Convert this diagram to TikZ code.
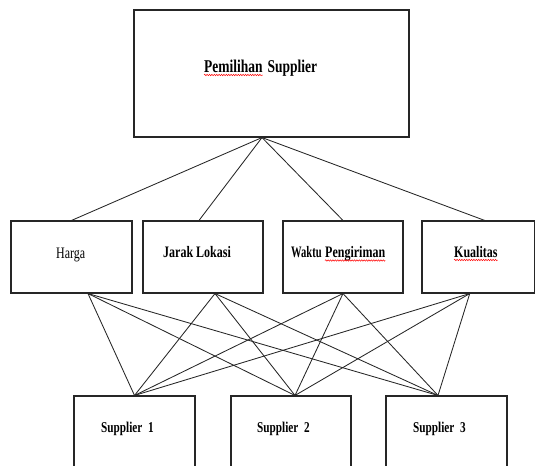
\documentclass[tikz,border=0pt]{standalone}
\usepackage{fontspec}
\setmainfont{Liberation Serif}
\newfontfamily\cf[FakeStretch=0.75]{Liberation Serif}
\newfontfamily\cfn[FakeStretch=0.66]{Liberation Serif}
\usetikzlibrary{calc,decorations.pathmorphing}
\begin{document}
\begin{tikzpicture}[x=1pt,y=-1pt,
  box/.style={draw=black!85,line width=1.1pt,rectangle,inner sep=0pt},
  lbl/.style={inner sep=0pt,anchor=base west,font=\cf\fontsize{16}{18}\selectfont},
  conn/.style={draw=black!85,line width=0.85pt},
  wavy/.style={draw=red,line width=0.5pt,decorate,decoration={snake,amplitude=0.7pt,segment length=2.4pt}}]
\useasboundingbox (0,0) rectangle (536,466);
\clip (0,0) rectangle (536,466);
% boxes
\node[box,minimum width=275pt,minimum height=127pt] (top) at (271.5,73.5) {};
\node[box,minimum width=121pt,minimum height=72pt] (harga) at (71.5,257) {};
\node[box,minimum width=120pt,minimum height=72pt] (jarak) at (203,257) {};
\node[box,minimum width=120pt,minimum height=72pt] (waktu) at (343,257) {};
\node[box,minimum width=112.5pt,minimum height=72pt] (kual) at (478.25,257) {};
\node[box,minimum width=121pt,minimum height=84pt] (s1) at (134.5,438) {};
\node[box,minimum width=120pt,minimum height=84pt] (s2) at (291,438) {};
\node[box,minimum width=121pt,minimum height=84pt] (s3) at (446.5,438) {};
% labels
\node[lbl,font=\cf\bfseries\fontsize{18}{20}\selectfont] (pem) at (204,72) {Pemilihan};
\node[lbl,font=\cf\bfseries\fontsize{18}{20}\selectfont] (supl) at ($(pem.base east)+(4.5,0)$) {Supplier};
\node[lbl] (thar) at (56,258) {Harga};
\node[lbl,font=\cf\bfseries\fontsize{16}{18}\selectfont] (tjar) at (163,257) {Jarak Lokasi};
\node[lbl,font=\cfn\bfseries\fontsize{16}{18}\selectfont] (twak) at (291,257.5) {Waktu};
\node[lbl,font=\cf\bfseries\fontsize{16}{18}\selectfont] (tpen) at (325,257.5) {Pengiriman};
\node[lbl,font=\cf\bfseries\fontsize{16}{18}\selectfont] (tkua) at (454,257) {Kualitas};
\node[lbl,font=\cf\bfseries\fontsize{15}{17}\selectfont] (ts1) at (101,432.5) {Supplier\ \ 1};
\node[lbl,font=\cf\bfseries\fontsize{15}{17}\selectfont] (ts2) at (257,432.5) {Supplier\ \ 2};
\node[lbl,font=\cf\bfseries\fontsize{15}{17}\selectfont] (ts3) at (413,432.5) {Supplier\ \ 3};
% red wavy underlines
\draw[wavy] ($(pem.base west)+(0,3)$) -- ($(pem.base east)+(0,3)$);
\draw[wavy] ($(tpen.base west)+(0,3)$) -- ($(tpen.base east)+(0,3)$);
\draw[wavy] ($(tkua.base west)+(0,3)$) -- ($(tkua.base east)+(0,3)$);
% connection points
\coordinate (apex) at ([xshift=-9.5pt]top.south);
\coordinate (ht) at (harga.north);
\coordinate (jt) at ([xshift=-4pt]jarak.north);
\coordinate (wt) at (waktu.north);
\coordinate (kt) at ([xshift=6.5pt]kual.north);
\coordinate (hb) at ([xshift=16.5pt]harga.south);
\coordinate (jb) at ([xshift=12pt]jarak.south);
\coordinate (wb) at (waktu.south);
\coordinate (kb) at ([xshift=-8.5pt]kual.south);
\coordinate (s1t) at (s1.north);
\coordinate (s2t) at ([xshift=4pt]s2.north);
\coordinate (s3t) at ([xshift=-8.5pt]s3.north);
% connectors
\foreach \c in {ht,jt,wt,kt} \draw[conn] (apex) -- (\c);
\foreach \a in {hb,jb,wb,kb}
  \foreach \b in {s1t,s2t,s3t}
    \draw[conn] (\a) -- (\b);
\end{tikzpicture}
\end{document}
